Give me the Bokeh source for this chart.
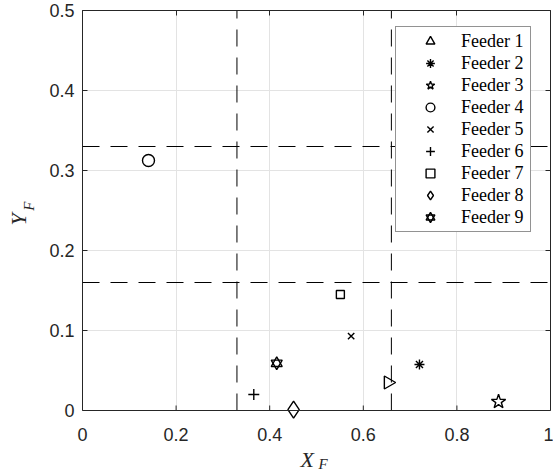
import numpy as np
from bokeh.plotting import figure
from bokeh.models import (ColumnDataSource, Span, Legend, LegendItem, Title, Grid,
                          LinearAxis, FixedTicker, CustomJSTickFormatter, Range1d)
from bokeh.embed import file_html
from bokeh.resources import INLINE

# ---- data ----
feeders = ["Feeder 1", "Feeder 2", "Feeder 3", "Feeder 4", "Feeder 5",
           "Feeder 6", "Feeder 7", "Feeder 8", "Feeder 9"]
xf = [0.653, 0.720, 0.889, 0.141, 0.574, 0.366, 0.551, 0.451, 0.415]
yf = [0.035, 0.0575, 0.011, 0.3125, 0.093, 0.020, 0.145, 0.001, 0.059]

x_ticks = [0, 0.2, 0.4, 0.6, 0.8, 1]
x_tick_labels = ["0", "0.2", "0.4", "0.6", "0.8", "1"]
y_ticks = [0, 0.1, 0.2, 0.3, 0.4, 0.5]
y_tick_labels = ["0", "0.1", "0.2", "0.3", "0.4", "0.5"]
x_thresholds = [0.33, 0.66]
y_thresholds = [0.16, 0.33]

# ---- styles ----
marker_specs = [
    [("triangle", 13, -np.pi / 2)],
    [("asterisk", 10, 0)],
    [("star", 15, 0)],
    [("circle", 12, 0)],
    [("x", 9, 0)],
    [("cross", 11, 0)],
    [("square", 8, 0)],
    [("diamond", 17, 0)],
    [("triangle", 11, 0), ("inverted_triangle", 11, 0)],
]
AX = "#262626"
SERIF = "Liberation Serif"
x_lo, x_hi = x_ticks[0], x_ticks[-1]
y_lo, y_hi = y_ticks[0], y_ticks[-1]
y_pad = 0.0125  # room below y=0 so markers sitting on the axis are not clipped

p = figure(width=553, height=473, x_range=Range1d(x_lo, x_hi), y_range=Range1d(y_lo - y_pad, y_hi),
           output_backend="svg", toolbar_location=None,
           min_border_left=82, min_border_right=3, min_border_top=10, min_border_bottom=53)
p.outline_line_color = None
p.background_fill_color = "white"
p.border_fill_color = "white"

fmt_code = """
let best = 0; let d = 1e9;
for (let i = 0; i < tv.length; i++) {
  const dd = Math.abs(tv[i] - tick);
  if (dd < d) { d = dd; best = i; }
}
return tl[best];
"""
xa = p.xaxis[0]
ya = p.yaxis[0]
xa.ticker = FixedTicker(ticks=x_ticks)
ya.ticker = FixedTicker(ticks=y_ticks)
xa.formatter = CustomJSTickFormatter(args=dict(tv=x_ticks, tl=x_tick_labels), code=fmt_code)
ya.formatter = CustomJSTickFormatter(args=dict(tv=y_ticks, tl=y_tick_labels), code=fmt_code)
ya.bounds = (y_lo, y_hi)

for ax in [xa, ya]:
    ax.major_tick_in = 5
    ax.major_tick_out = 0
    ax.minor_tick_line_color = None
    ax.axis_line_color = AX
    ax.major_tick_line_color = AX
    ax.major_label_text_font = "Liberation Sans"
    ax.major_label_text_font_size = "18px"
    ax.major_label_text_color = AX
# bottom axis sits at the (padded) frame edge: keep only its labels,
# the visible axis line and ticks are drawn at y = 0 below
xa.axis_line_color = None
xa.major_tick_line_color = None
xa.major_label_standoff = 7
ya.major_label_standoff = 8

# spacer label so that the X / F pieces land at the right height
xa.axis_label = "\u00a0"
xa.axis_label_text_font_size = "10px"
xa.axis_label_standoff = 0

# y-axis label: subscript part "F" (shifted up with no-break spaces)
ya.axis_label = "\u00a0" * 5 + "F"
ya.axis_label_text_font = SERIF
ya.axis_label_text_font_style = "italic"
ya.axis_label_text_font_size = "15px"
ya.axis_label_text_color = AX
ya.axis_label_standoff = 9

top_ax = LinearAxis(ticker=FixedTicker(ticks=x_ticks), formatter=CustomJSTickFormatter(code="return ''"),
                    major_tick_in=5, major_tick_out=0, minor_tick_line_color=None,
                    axis_line_color=AX, major_tick_line_color=AX,
                    major_label_standoff=0, major_label_text_font_size="1px")
right_ax = LinearAxis(ticker=FixedTicker(ticks=y_ticks), formatter=CustomJSTickFormatter(code="return ''"),
                      major_tick_in=5, major_tick_out=0, minor_tick_line_color=None,
                      axis_line_color=AX, major_tick_line_color=AX, bounds=(y_lo, y_hi),
                      major_label_standoff=0, major_label_text_font_size="1px")
p.add_layout(top_ax, "above")
p.add_layout(right_ax, "right")

p.xgrid.ticker = FixedTicker(ticks=x_ticks)
p.ygrid.ticker = FixedTicker(ticks=y_ticks)
p.grid.grid_line_color = "#e3e3e3"
p.grid.grid_line_width = 1
if "cross_bounds" in Grid.properties():
    p.xgrid.cross_bounds = (y_lo, y_hi)

# visible bottom axis line at y = 0 with inward ticks
p.add_layout(Span(location=y_lo, dimension="width", line_color=AX, line_width=1))
p.ray(x=x_ticks, y=[y_lo] * len(x_ticks), length=5, length_units="screen",
      angle=np.pi / 2, line_color=AX, line_width=1)

# threshold lines
p.segment(x0=x_thresholds, x1=x_thresholds, y0=[y_lo] * len(x_thresholds), y1=[y_hi] * len(x_thresholds),
          line_color="black", line_width=1, line_dash="17 11")
for v in y_thresholds:
    p.add_layout(Span(location=v, dimension="width", line_color="black",
                      line_width=1, line_dash="17 11"))

items = []
for i, name in enumerate(feeders):
    src = ColumnDataSource(dict(x=[xf[i]], y=[yf[i]]))
    rs = []
    for mk, sz, ang in marker_specs[i]:
        r = p.scatter(x="x", y="y", source=src, marker=mk, size=sz, angle=ang,
                      fill_color=None, line_color="black", line_width=1.4)
        rs.append(r)
    items.append(LegendItem(label=name, renderers=rs))

legend = Legend(items=items, location=(313, 188), margin=0,
                padding=3, spacing=0, glyph_height=22, glyph_width=62,
                label_standoff=0, label_height=22, label_width=66,
                label_text_font=SERIF, label_text_font_size="18px",
                label_text_color="black",
                border_line_color=AX, border_line_width=1,
                background_fill_color="white", background_fill_alpha=1.0)
p.add_layout(legend, "center")

# axis label pieces as titles: X, then subscript F; Y on the left
tkw = dict(text_font=SERIF, text_font_style="italic", text_color=AX, align="left")
has_standoff = "standoff" in Title.properties()
def mk_title(text, size, offset, valign, standoff):
    kw = dict(tkw, text=text, text_font_size=size, offset=offset, vertical_align=valign)
    if has_standoff:
        kw["standoff"] = standoff
    return Title(**kw)

p.add_layout(mk_title("X", "22px", 218, "bottom", -26), "below")
p.add_layout(mk_title("F", "15px", 236, "bottom", -9), "below")
p.add_layout(mk_title("Y", "22px", 195, "bottom", -25), "left")

open("out.html", "w").write(file_html(p, INLINE))
